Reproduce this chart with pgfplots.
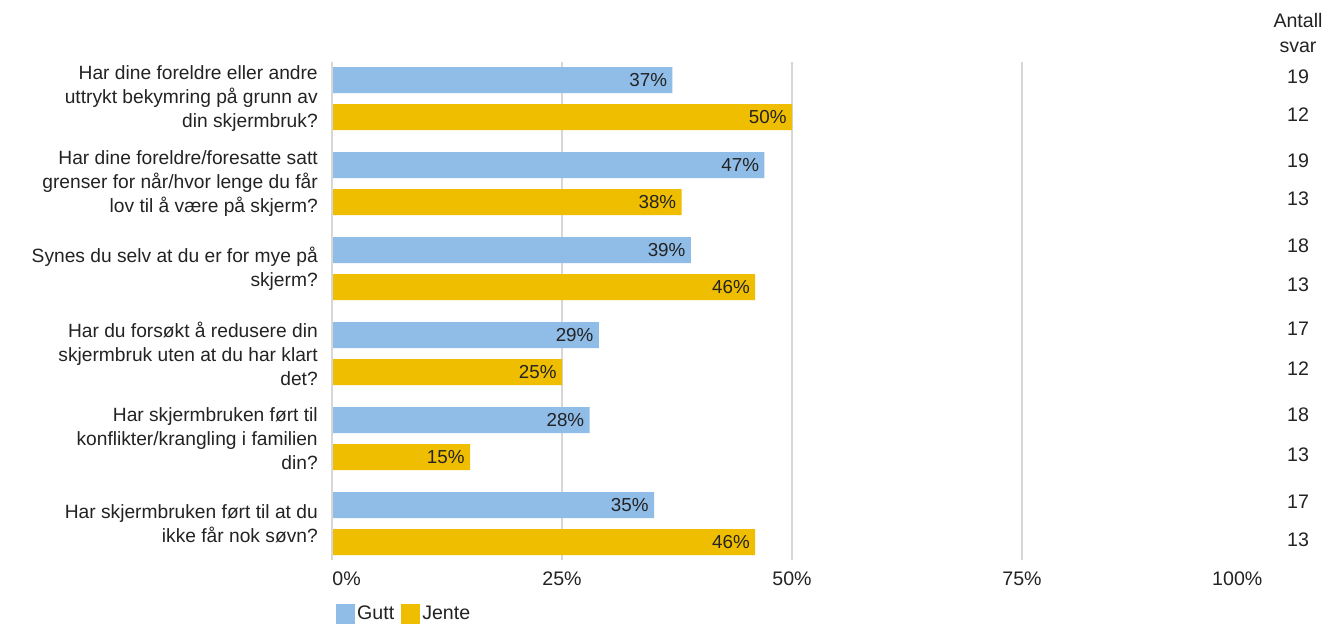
\documentclass[border=0pt]{standalone}
\usepackage{pgfplots}
\pgfplotsset{compat=1.18}
\usepackage{fontspec}
\setmainfont{Liberation Sans}
\definecolor{gutt}{RGB}{143,189,232}
\definecolor{jente}{RGB}{240,190,0}
\definecolor{txt}{RGB}{35,35,35}
\definecolor{gridc}{RGB}{215,215,215}
\begin{document}
\begin{tikzpicture}
\useasboundingbox[fill=white] (0,0) rectangle (668.5pt,313.5pt);
\begin{axis}[
  at={(166pt,33.5pt)}, anchor=south west,
  scale only axis, width=460pt, height=249pt,
  xmin=0, xmax=100, ymin=62, ymax=560, y dir=reverse,
  xbar, bar width=26, bar shift=0pt,
  clip=false,
  axis line style={draw=none},
  xtick={25,50,75}, xticklabels={},
  xmajorgrids, grid style={gridc, line width=0.6pt},
  major tick length=0pt,
  ytick={98.5,183.5,268.5,353.5,438.5,523.5},
  yticklabels={
    {Har dine foreldre eller andre\\uttrykt bekymring på grunn av\\din skjermbruk?},
    {Har dine foreldre/foresatte satt\\grenser for når/hvor lenge du får\\lov til å være på skjerm?},
    {Synes du selv at du er for mye på\\skjerm?},
    {Har du forsøkt å redusere din\\skjermbruk uten at du har klart\\det?},
    {Har skjermbruken ført til\\konflikter/krangling i familien\\din?},
    {Har skjermbruken ført til at du\\ikke får nok søvn?}},
  yticklabel style={align=right, font=\fontsize{9.6}{12}\selectfont, text=txt, xshift=-3.6pt},
  /pgf/number format/assume math mode=true,
  nodes near coords={\pgfmathprintnumber{\pgfplotspointmeta}\%},
  every node near coord/.append style={anchor=east, font=\fontsize{9.4}{11}\selectfont, text=txt, inner sep=2.5pt},
  legend style={at={(axis cs:-0.3,614)}, anchor=west, draw=none, fill=none,
    legend columns=-1, font=\fontsize{9.8}{11}\selectfont,
    nodes={inner sep=1.2pt, text=txt},
    /tikz/every even column/.append style={column sep=2pt}},
  legend image code/.code={\fill[#1] (0pt,-4.8pt) rectangle (9.6pt,4.8pt);},
]
\addplot[fill=gutt, draw=none] coordinates {(37,80) (47,165) (39,250) (29,335) (28,420) (35,505)};
\addlegendentry{Gutt}
\addplot[fill=jente, draw=none] coordinates {(50,117) (38,202) (46,287) (25,372) (15,457) (46,542)};
\addlegendentry{Jente}

\draw[gridc, line width=0.6pt] (axis cs:0,62) -- (axis cs:0,560);

\begin{scope}[every node/.style={text=txt, font=\fontsize{9.8}{11}\selectfont}]
\node[anchor=base west, inner sep=0] at (axis cs:0,585) {0\%};
\node[anchor=base, inner sep=0] at (axis cs:25,585) {25\%};
\node[anchor=base, inner sep=0] at (axis cs:50,585) {50\%};
\node[anchor=base, inner sep=0] at (axis cs:75,585) {75\%};
\node[anchor=base, inner sep=0] at (axis cs:98.4,585) {100\%};

\node[align=center, inner sep=0, font=\fontsize{9.8}{12.5}\selectfont] at (axis cs:105,33) {Antall\\svar};
\node at (axis cs:105,77) {19};
\node at (axis cs:105,115) {12};
\node at (axis cs:105,161) {19};
\node at (axis cs:105,199) {13};
\node at (axis cs:105,246) {18};
\node at (axis cs:105,285) {13};
\node at (axis cs:105,329) {17};
\node at (axis cs:105,369) {12};
\node at (axis cs:105,415) {18};
\node at (axis cs:105,455) {13};
\node at (axis cs:105,502) {17};
\node at (axis cs:105,540) {13};
\end{scope}
\end{axis}
\end{tikzpicture}
\end{document}
